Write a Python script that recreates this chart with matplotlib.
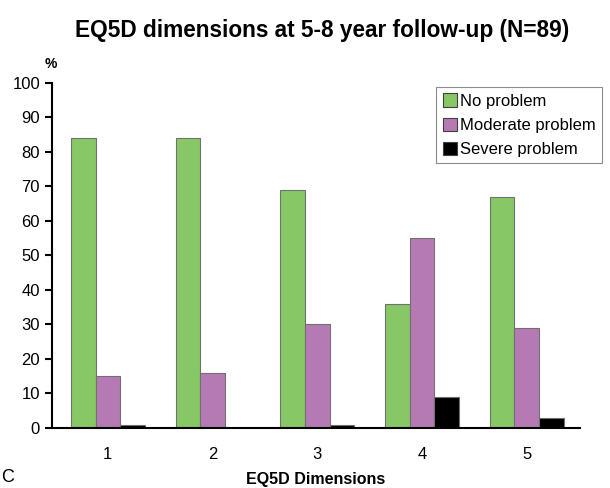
import matplotlib
matplotlib.use("Agg")
import matplotlib.pyplot as plt
import numpy as np

plt.rcParams['font.family'] = ['Liberation Sans', 'DejaVu Sans']

dimensions = ["1", "2", "3", "4", "5"]
no_problem = [84, 84, 69, 36, 67]
moderate_problem = [15, 16, 30, 55, 29]
severe_problem = [1, 0, 1, 9, 3]

series = [
    ("No problem", no_problem, "#88c766"),
    ("Moderate problem", moderate_problem, "#b57ab4"),
    ("Severe problem", severe_problem, "#000000"),
]

fig = plt.figure(figsize=(6.1, 4.88), dpi=100)
ax = fig.add_axes([0.085, 0.123, 0.866, 0.707])

x = np.arange(1, len(dimensions) + 1)
width = 0.235
for i, (name, vals, color) in enumerate(series):
    ax.bar(x + (i - 1) * width, vals, width, color=color,
           edgecolor="#707070", linewidth=0.8, label=name)

ax.set_xlim(0.465, 5.51)
ax.set_ylim(0, 100)
ax.set_yticks(np.arange(0, 101, 10))
ax.set_xticks(x)
ax.set_xticklabels(dimensions)
ax.tick_params(axis='y', labelsize=12, length=5, width=1.5, direction='out')
ax.tick_params(axis='x', labelsize=12, length=0, pad=14)
for s in ("top", "right"):
    ax.spines[s].set_visible(False)
for s in ("left", "bottom"):
    ax.spines[s].set_linewidth(1.5)

ax.set_xlabel("EQ5D Dimensions", fontsize=11.5, fontweight="bold", labelpad=7)
fig.text(0.083, 0.868, "%", fontsize=10, fontweight="bold", ha="center", va="center")
fig.text(0.528, 0.938, "EQ5D dimensions at 5-8 year follow-up (N=89)",
         fontsize=16.3, fontweight="bold", ha="center", va="center")
fig.text(0.002, 0.022, "C", fontsize=13, ha="left", va="center")

leg = ax.legend(loc="upper left", bbox_to_anchor=(0.728, 0.988), fontsize=12,
                frameon=True, fancybox=False, handlelength=0.85, handleheight=0.85,
                handletextpad=0.2, labelspacing=0.52, borderpad=0.38,
                borderaxespad=0)
leg.get_frame().set_edgecolor("#707070")
leg.get_frame().set_linewidth(0.8)
for h in leg.legend_handles:
    h.set_edgecolor("#404040")

fig.savefig("out.png", dpi=100)
